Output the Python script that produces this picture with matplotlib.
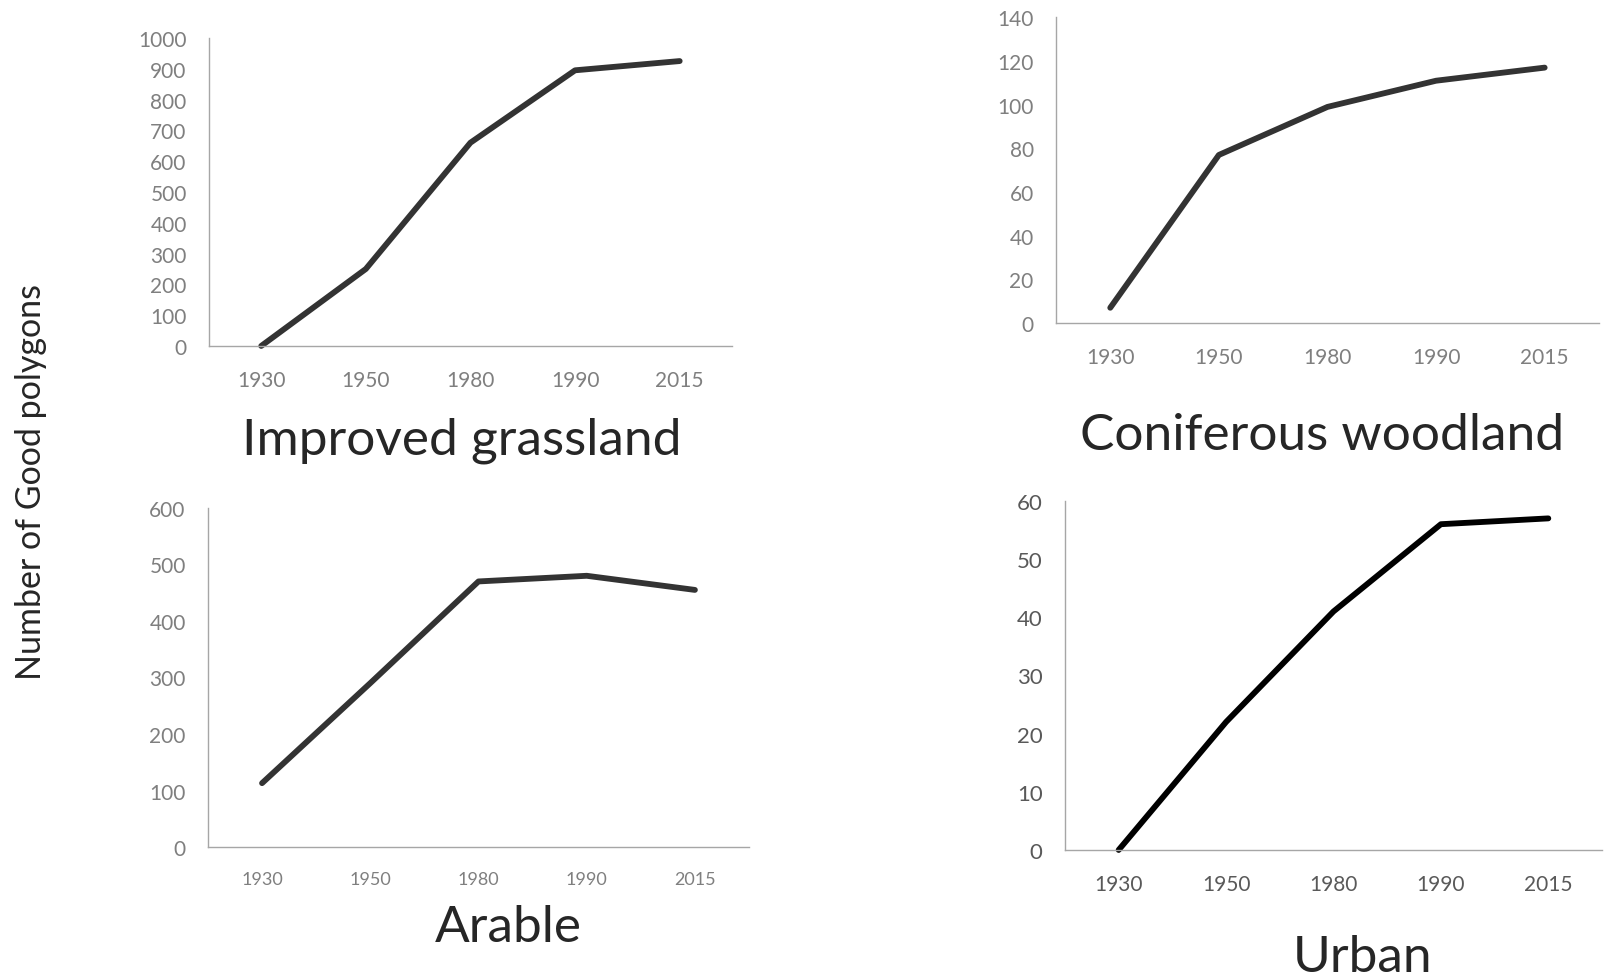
import matplotlib
matplotlib.use("Agg")
import matplotlib.pyplot as plt

plt.rcParams['font.family'] = ['Lato', 'DejaVu Sans']

years = ['1930', '1950', '1980', '1990', '2015']

grassland = [0, 250, 660, 895, 925]
coniferous = [7, 77, 99, 111, 117]
arable = [113, 290, 470, 480, 455]
urban = [0, 22, 41, 56, 57]

grassland_ticks = list(range(0, 1001, 100))
coniferous_ticks = list(range(0, 141, 20))
arable_ticks = list(range(0, 601, 100))
urban_ticks = list(range(0, 61, 10))

# axes rect, values, y ticks, title, title pos, line colour, tick sizes, label colour
panels = [
    ([0.130, 0.6456, 0.3255, 0.3146], grassland, grassland_ticks, 'Improved grassland',
     (0.2876, 0.5495), '#333333', 15, 15, '#7f7f7f'),
    ([0.6571, 0.6690, 0.3379, 0.3122], coniferous, coniferous_ticks, 'Coniferous woodland',
     (0.8228, 0.5546), '#333333', 15, 15, '#7f7f7f'),
    ([0.1294, 0.1338, 0.3367, 0.3463], arable, arable_ticks, 'Arable',
     (0.3163, 0.0526), '#333333', 15, 13, '#7f7f7f'),
    ([0.6627, 0.1308, 0.3342, 0.3565], urban, urban_ticks, 'Urban',
     (0.8477, 0.0215), '#000000', 16, 15, '#595959'),
]

fig = plt.figure(figsize=(16.07, 9.79), dpi=100)

for rect, vals, yt, title, tpos, col, ysize, xsize, lcol in panels:
    ax = fig.add_axes(rect)
    x = list(range(len(years)))
    ax.plot(x, vals, color=col, linewidth=4.2, solid_capstyle='round',
            solid_joinstyle='round', clip_on=False)
    ax.set_xlim(-0.5, len(years) - 0.5)
    ax.set_ylim(yt[0], yt[-1])
    ax.set_xticks(x)
    ax.set_xticklabels(years)
    ax.set_yticks(yt)
    ax.tick_params(axis='y', length=0, pad=16, labelsize=ysize, labelcolor=lcol)
    ax.tick_params(axis='x', length=0, pad=17, labelsize=xsize, labelcolor=lcol)
    for side in ['top', 'right']:
        ax.spines[side].set_visible(False)
    for side in ['left', 'bottom']:
        ax.spines[side].set_color('#a6a6a6')
        ax.spines[side].set_linewidth(1.0)
    ax.set_facecolor('none')
    fig.text(tpos[0], tpos[1], title, fontsize=37, color='#262626',
             ha='center', va='center')

fig.text(0.019, 0.508, 'Number of Good polygons', rotation=90, fontsize=24.5,
         color='#262626', ha='center', va='center')

fig.savefig('out.png', dpi=100)
